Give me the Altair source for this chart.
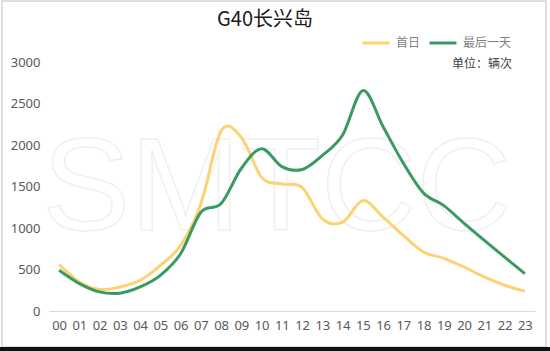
import altair as alt
import pandas as pd

hours = ["00", "01", "02", "03", "04", "05", "06", "07", "08", "09", "10", "11",
         "12", "13", "14", "15", "16", "17", "18", "19", "20", "21", "22", "23"]
first_day = [560, 350, 260, 290, 370, 550, 790, 1290, 2170, 2090, 1610, 1530,
             1490, 1110, 1070, 1330, 1130, 910, 710, 635, 530, 410, 310, 240]
last_day = [490, 330, 230, 215, 290, 430, 690, 1190, 1295, 1720, 1955, 1740,
            1705, 1875, 2120, 2655, 2220, 1780, 1420, 1270, 1055, 850, 650, 450]
series = ["首日", "最后一天"]
colors = ["#FDD272", "#3A9A62"]

df = pd.DataFrame({
    "hour": hours * 2,
    "value": first_day + last_day,
    "series": [series[0]] * len(hours) + [series[1]] * len(hours),
})

W, H = 486, 249
FONT = "Noto Sans CJK SC"

base = alt.Chart(df)

frame = alt.Chart(pd.DataFrame({"k": [0]})).mark_rect(
    fillOpacity=0, stroke="#d4d4d4", strokeWidth=1.5
).encode(x=alt.value(-47), x2=alt.value(497), y=alt.value(-61), y2=alt.value(285))

bottom_band = alt.Chart(pd.DataFrame({"k": [0]})).mark_rect(
    color="#111111"
).encode(x=alt.value(-49), x2=alt.value(501), y=alt.value(285), y2=alt.value(289))

watermark = alt.Chart(pd.DataFrame({"t": ["SMTCC"]})).mark_text(
    font="Liberation Sans", fontSize=132, align="center", baseline="alphabetic",
    stroke="#f0f0f0", strokeWidth=1.5, fillOpacity=0
).encode(x=alt.value(228), y=alt.value(168), text="t:N")

lines = base.mark_line(interpolate="cardinal", strokeWidth=3).encode(
    x=alt.X("hour:N", sort=hours,
            scale=alt.Scale(type="point", padding=0.5),
            axis=alt.Axis(title=None, labelAngle=0, ticks=False, tickSize=0,
                          domainColor="#d9d9d9", domainWidth=1,
                          labelColor="#595959", labelFontSize=13,
                          labelFont="Noto Sans", labelPadding=8, grid=False)),
    y=alt.Y("value:Q", scale=alt.Scale(domain=[0, 3000], nice=False),
            axis=alt.Axis(title=None, values=[0, 500, 1000, 1500, 2000, 2500, 3000],
                          format="d", ticks=False, domain=False, grid=False,
                          labelColor="#595959", labelFontSize=13,
                          labelFont="Noto Sans", labelPadding=9)),
    color=alt.Color("series:N", sort=series,
                    scale=alt.Scale(domain=series, range=colors),
                    legend=alt.Legend(title=None, orient="none", direction="horizontal",
                                      legendX=312, legendY=-34,
                                      symbolType="stroke", symbolSize=729,
                                      symbolStrokeWidth=3, labelFont=FONT,
                                      labelFontSize=12, labelColor="#7f7f7f",
                                      labelOffset=5, columnPadding=2)),
)

title = alt.Chart(pd.DataFrame({"t": ["G40长兴岛"]})).mark_text(
    font=FONT, fontSize=20, color="#1a1a1a", align="center", baseline="middle"
).encode(x=alt.value(216), y=alt.value(-42), text="t:N")

unit = alt.Chart(pd.DataFrame({"t": ["单位：辆次"]})).mark_text(
    font=FONT, fontSize=12, color="#404040", align="right", baseline="middle"
).encode(x=alt.value(463), y=alt.value(2), text="t:N")

chart = alt.layer(frame, bottom_band, watermark, lines, title, unit).properties(
    width=W, height=H,
    autosize=alt.AutoSizeParams(type="none"),
    padding={"left": 49, "top": 62, "right": 15, "bottom": 40},
    background="white",
).configure_view(stroke=None)

chart.save("out.html", embed_options={"renderer": "svg", "actions": False})
